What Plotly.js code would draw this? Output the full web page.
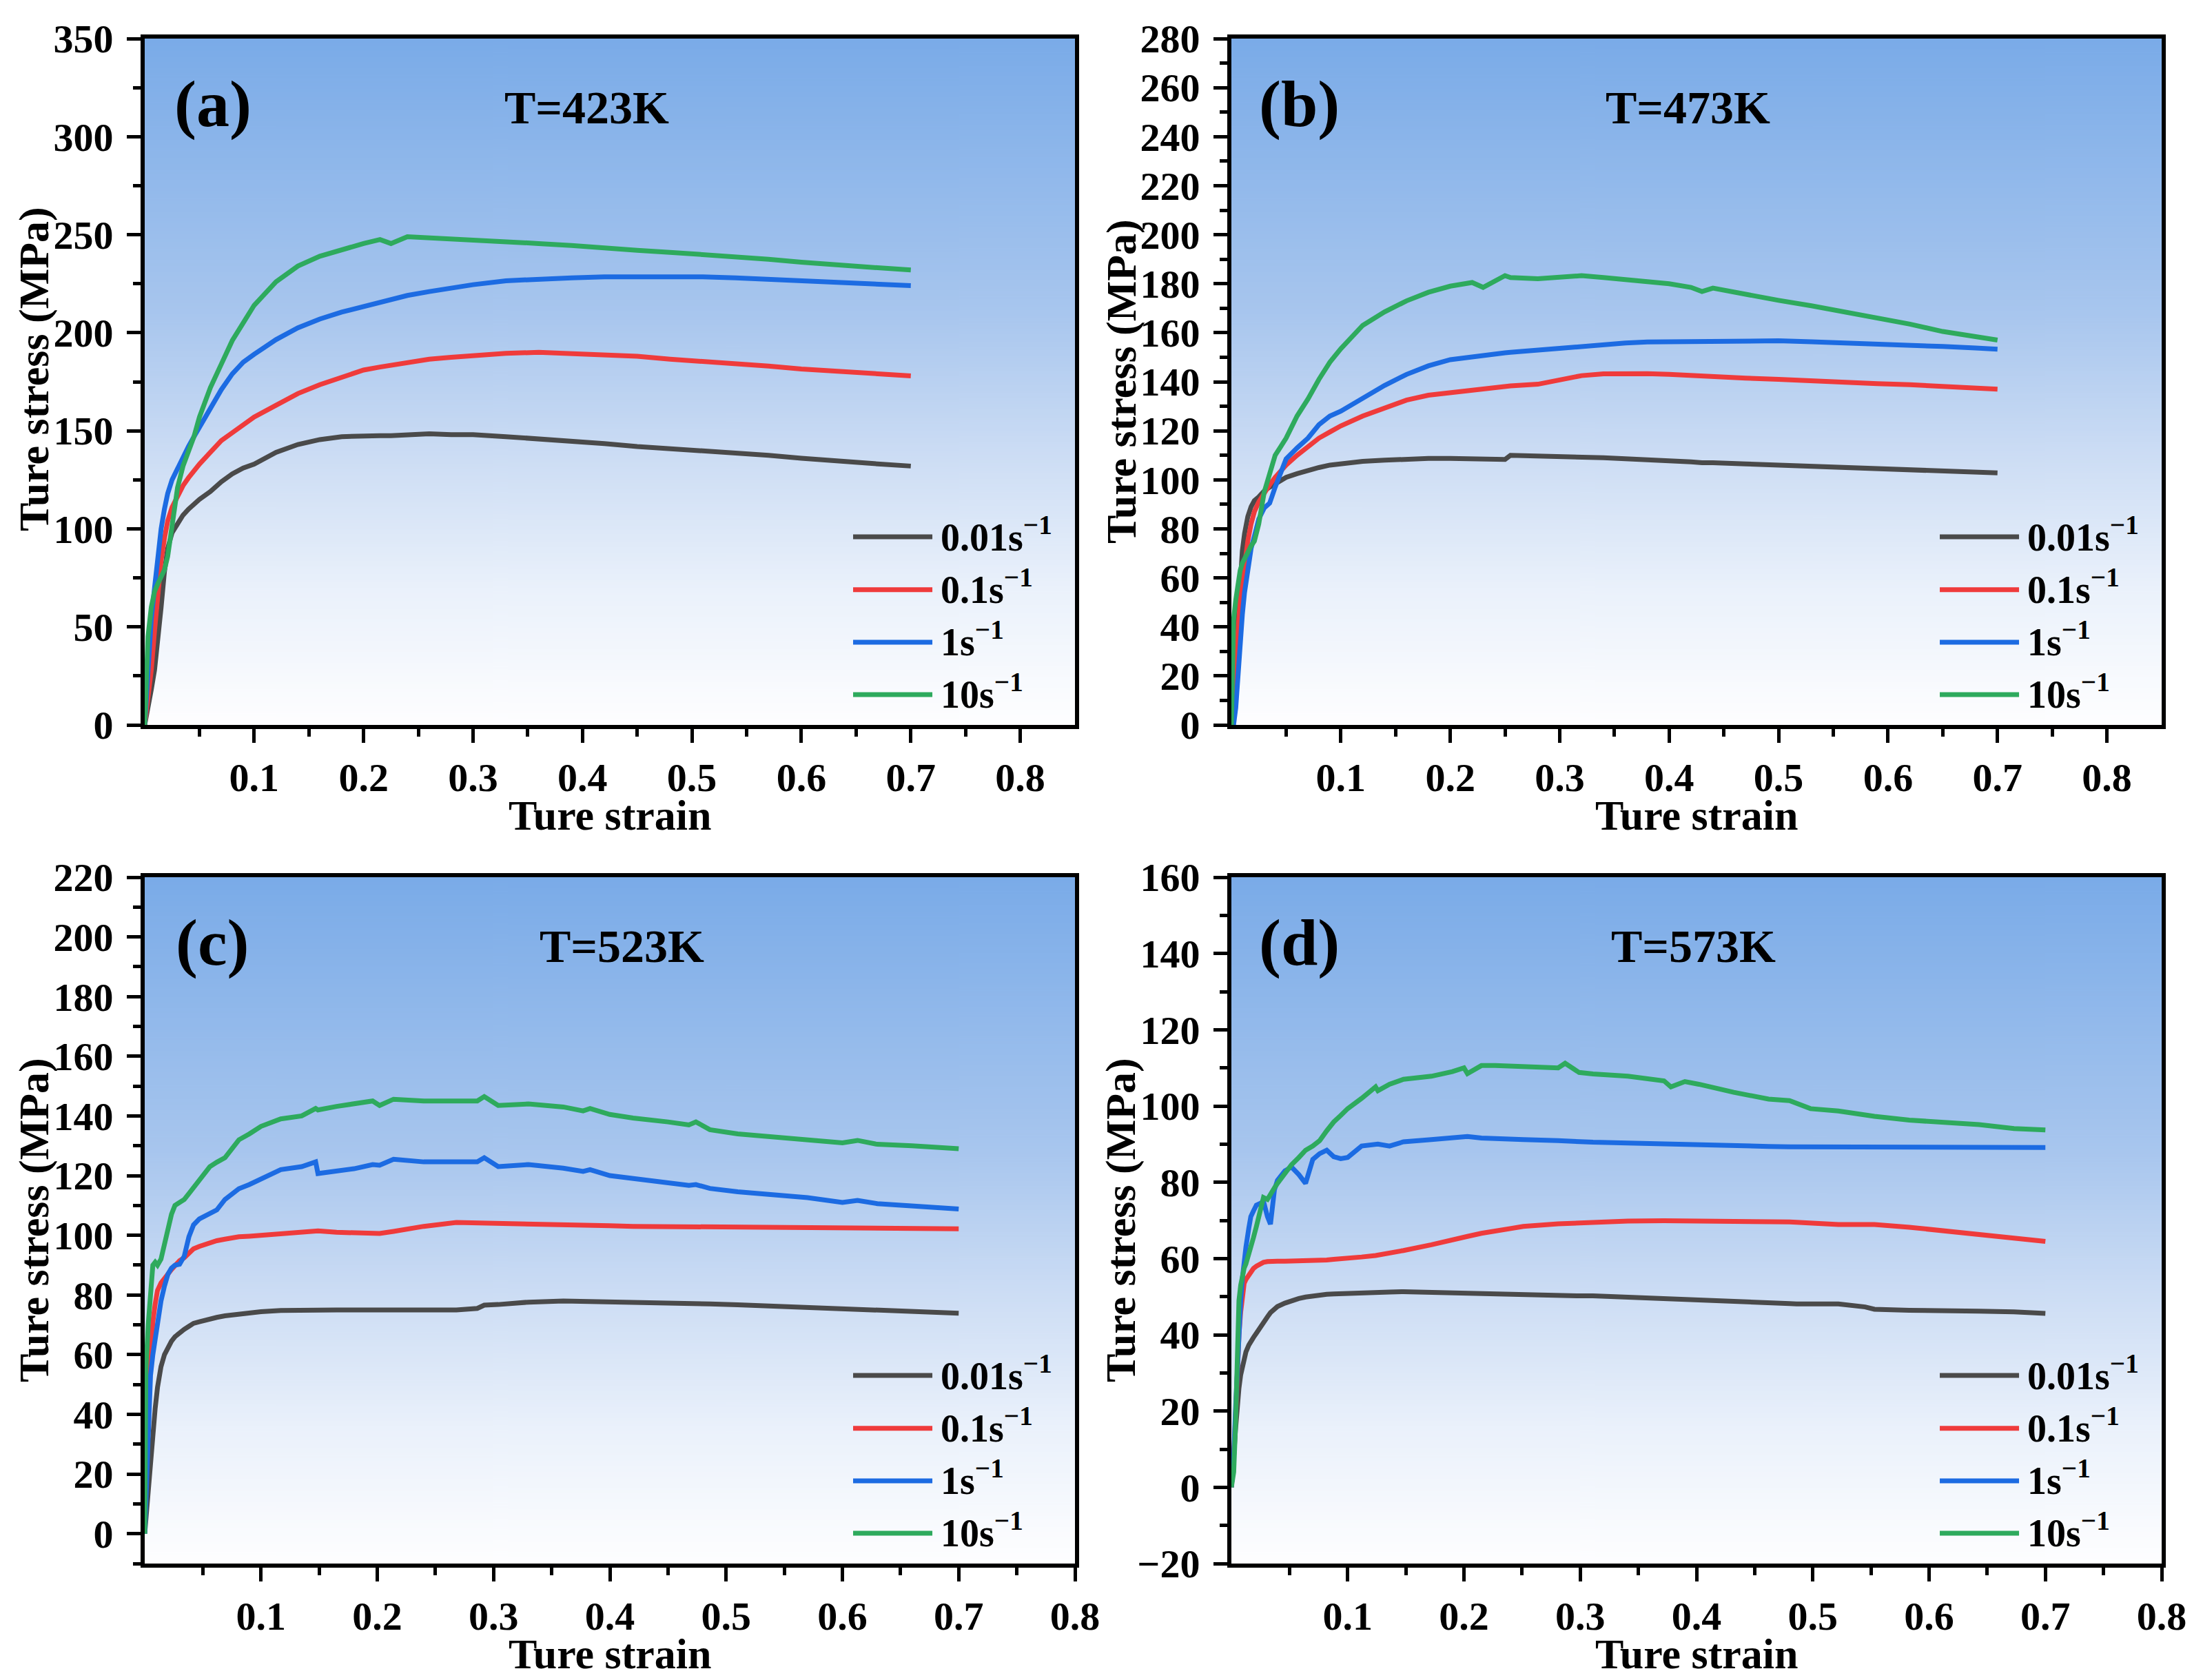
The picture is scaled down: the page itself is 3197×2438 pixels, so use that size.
<!DOCTYPE html>
<html>
<head>
<meta charset="utf-8">
<title>True stress - true strain curves, four temperatures</title>
<script src="https://cdn.plot.ly/plotly-3.0.1.min.js"></script>
<style>
  html, body { margin: 0; padding: 0; background: #fff; }
  #chart { width: 3197px; height: 2438px; }
</style>
</head>
<body>
<div id="chart"></div>
<script>
/* =========================================================
   Hot compression curves, 2x2 panels (a)-(d).
   One strain grid per panel, one stress list per strain
   rate.
   ========================================================= */

/* ---- labels ---- */
var RATE_LABELS = ["0.01s<sup>\u22121</sup>", "0.1s<sup>\u22121</sup>", "1s<sup>\u22121</sup>", "10s<sup>\u22121</sup>"];
var PANEL_TAGS = ["(a)", "(b)", "(c)", "(d)"];
var TEMPS = ["T=423K", "T=473K", "T=523K", "T=573K"];
var X_TICKS = [0.1, 0.2, 0.3, 0.4, 0.5, 0.6, 0.7, 0.8];
var X_MINOR = [0.05, 0.15, 0.25, 0.35, 0.45, 0.55, 0.65, 0.75];

/* ---- (a) T=423K ---- */
var A_STRAIN = [0, 0.003, 0.006, 0.009, 0.012, 0.015, 0.018, 0.021, 0.025, 0.03,
  0.035, 0.04, 0.045, 0.05, 0.06, 0.07, 0.08, 0.09, 0.10, 0.12,
  0.14, 0.16, 0.18, 0.20, 0.215, 0.225, 0.24, 0.26, 0.28, 0.30,
  0.33, 0.36, 0.39, 0.42, 0.45, 0.48, 0.51, 0.54, 0.57, 0.60,
  0.63, 0.66, 0.70];
var A_R001 = [0, 8, 18, 28, 42, 60, 78, 90, 98, 103,
  107, 110, 112.5, 115, 119, 124, 128, 131, 133, 139,
  143, 145.5, 147, 147.5, 147.5, 147.5, 148, 148.5, 148, 148,
  147, 146, 145, 143.5, 142, 141, 140, 138.5, 137.5, 136,
  135, 133.5, 132];
var A_R01 = [0, 12, 28, 48, 68, 84, 95, 104, 111, 117,
  122, 126, 130, 133, 139, 145, 149, 153, 157, 163,
  169, 173.5, 177.5, 181, 182.5, 183.5, 185, 186.5, 187.5, 188.5,
  189.5, 190, 189.5, 189, 188, 186.5, 185.5, 184, 183, 181.5,
  180.5, 179, 178];
var A_R1 = [0, 32, 54, 70, 86, 100, 110, 118, 125, 131,
  136, 142, 147, 152, 161, 171, 179, 185, 189, 196.5,
  202.5, 207, 210.5, 213.5, 215.5, 217, 219, 221, 223, 224.5,
  226.5, 227.5, 228, 228.5, 228.7, 228.7, 228.5, 228, 227.3, 226.5,
  225.5, 224.8, 224];
var A_R10 = [0, 45, 60, 68, 72, 75, 79, 86, 103, 121,
  132, 139, 147, 157, 172, 184, 196, 205, 214, 226,
  234, 239, 242.5, 245.5, 247.5, 245.5, 249, 248.5, 248, 247.5,
  246.5, 245.5, 244.5, 243, 242, 241, 240, 238.5, 237.5, 236,
  235, 233.5, 232];

/* ---- (b) T=473K ---- */
var B_STRAIN = [0, 0.002, 0.004, 0.006, 0.008, 0.01, 0.012, 0.015, 0.018, 0.021,
  0.025, 0.03, 0.035, 0.04, 0.045, 0.05, 0.06, 0.07, 0.08, 0.09,
  0.10, 0.12, 0.14, 0.16, 0.18, 0.20, 0.22, 0.23, 0.25, 0.255,
  0.28, 0.30, 0.32, 0.34, 0.36, 0.38, 0.40, 0.42, 0.43, 0.44,
  0.47, 0.50, 0.53, 0.56, 0.59, 0.62, 0.65, 0.68, 0.70];
var B_R001 = [0, 14, 28, 45, 60, 71, 78, 85, 89, 91.5,
  93, 95.5, 97, 98.5, 99.5, 101, 102.5, 104, 105, 106,
  106.5, 107.5, 108, 108.5, 108.7, 108.7, 108.5, 108.5, 108.3, 110,
  109.8, 109.5, 109.2, 109, 108.6, 108.3, 108, 107.3, 107, 107,
  106.5, 106, 105.6, 105.2, 104.6, 104.3, 103.9, 103.2, 102.8];
var B_R01 = [0, 8, 25, 41, 51, 58, 66, 75, 82, 87,
  91, 95, 98, 101, 103.5, 106, 110, 113.5, 117, 119.5,
  122, 126, 129.5, 132.5, 134.5, 135.5, 136.5, 137, 138, 138.3,
  139, 141, 142.5, 143.2, 143.4, 143.3, 143, 142.5, 142.3, 142,
  141.5, 141, 140.3, 139.7, 139.2, 138.8, 138.3, 137.6, 137];
var B_R1 = [0, 0, 7, 21, 34, 45, 54, 65, 72, 77,
  84, 88.5, 90.5, 97, 103, 108.5, 113, 117, 122.5, 126,
  128, 133.5, 138.5, 143, 146.5, 149, 150.3, 150.8, 151.8, 152,
  153, 153.7, 154.5, 155.2, 155.8, 156.2, 156.3, 156.4, 156.5, 156.5,
  156.6, 156.7, 156.3, 155.9, 155.5, 155, 154.4, 153.8, 153.3];
var B_R10 = [0, 43, 51, 59, 63, 66, 68, 70, 73, 75,
  82, 95, 103, 110, 113.5, 117, 126, 133, 141, 148,
  153.5, 163, 168.5, 173, 176.5, 179, 180.5, 178.5, 183.3, 182.5,
  182, 182.5, 183.3, 182.5, 181.8, 181, 180, 178.5, 176.8, 178.2,
  175.5, 173.2, 171, 168.5, 166, 163.5, 160.5, 158.3, 157];

/* ---- (c) T=523K ---- */
var C_STRAIN = [0, 0.001, 0.003, 0.005, 0.007, 0.009, 0.011, 0.014, 0.017, 0.02,
  0.023, 0.026, 0.03, 0.034, 0.038, 0.042, 0.047, 0.052, 0.056, 0.062,
  0.069, 0.075, 0.081, 0.09, 0.10, 0.117, 0.135, 0.147, 0.149, 0.165,
  0.18, 0.196, 0.202, 0.214, 0.24, 0.268, 0.286, 0.292, 0.304, 0.33,
  0.36, 0.377, 0.383, 0.40, 0.42, 0.45, 0.468, 0.474, 0.486, 0.51,
  0.54, 0.57, 0.60, 0.613, 0.63, 0.66, 0.70];
var C_R001 = [0, 5, 15, 26, 34, 42, 49, 56, 60, 62.5,
  64.5, 66, 67.5, 68.5, 69.5, 70.5, 71, 71.6, 72, 72.5,
  73, 73.3, 73.5, 74, 74.4, 74.8, 75, 75, 75, 75,
  75, 75, 75, 75, 75, 75, 75.5, 76.6, 76.8, 77.6,
  78, 77.9, 77.8, 77.7, 77.6, 77.3, 77.2, 77.1, 77, 76.7,
  76.2, 75.8, 75.3, 75.1, 74.8, 74.4, 73.9];
var C_R01 = [3, 18, 42, 58, 71, 77, 81.5, 84, 85.8, 87,
  88.5, 90, 91.5, 92.5, 94, 95.5, 96.3, 97, 97.7, 98.2,
  98.7, 99.2, 99.5, 99.7, 100, 100.4, 101.2, 101.7, 101.5, 101,
  100.8, 100.4, 100.6, 101.3, 103, 104.3, 104.2, 104.1, 104, 103.8,
  103.5, 103.4, 103.3, 103.2, 103, 102.9, 102.8, 102.8, 102.7, 102.7,
  102.6, 102.5, 102.4, 102.4, 102.3, 102.3, 102.2];
var C_R1 = [0, 12, 38, 53, 60, 66, 71, 78, 83, 87,
  89, 90, 90.3, 93, 99.5, 103.5, 105.5, 106.5, 107, 108.5,
  112, 114, 115.6, 117, 119, 122, 123, 124.6, 120.7, 121.5,
  122.3, 123.7, 123.5, 125.5, 124.6, 124.6, 124.6, 126, 123, 123.7,
  122.5, 121.4, 122, 120, 119, 117.5, 116.7, 117, 115.7, 114.6,
  113.5, 112.6, 111, 111.7, 110.6, 109.7, 108.8];
var C_R10 = [0, 55, 70, 80, 90, 91, 90, 92, 97, 103,
  107, 110, 111, 112, 114, 116, 119, 121, 123, 124.5,
  126, 129, 132, 134, 136.5, 139, 140, 142.5, 142, 143.2,
  144, 145, 143.5, 145.6, 145, 145, 145, 146.5, 143.5, 144,
  143, 141.7, 142.5, 140.5, 139.3, 138, 137, 138, 135.4, 134,
  133, 132, 131, 131.8, 130.5, 130, 129];

/* ---- (d) T=573K ---- */
var D_STRAIN = [0, 0.001, 0.002, 0.0035, 0.005, 0.0065, 0.008, 0.0095, 0.011, 0.0125,
  0.015, 0.0167, 0.019, 0.0215, 0.025, 0.0276, 0.031, 0.0336, 0.037, 0.0396,
  0.046, 0.0517, 0.058, 0.0638, 0.07, 0.0759, 0.082, 0.088, 0.094, 0.10,
  0.112, 0.124, 0.126, 0.136, 0.148, 0.172, 0.19, 0.2, 0.203, 0.215,
  0.227, 0.251, 0.281, 0.287, 0.299, 0.311, 0.341, 0.372, 0.378, 0.39,
  0.402, 0.432, 0.462, 0.48, 0.486, 0.498, 0.522, 0.545, 0.553, 0.583,
  0.613, 0.643, 0.673, 0.70];
var D_R001 = [0, 3, 8, 15, 22, 26, 29.5, 32, 34, 35.5,
  37.3, 38.3, 39.3, 40.4, 41.8, 43.2, 44.7, 45.8, 46.7, 47.4,
  48.3, 49, 49.5, 49.9, 50.2, 50.4, 50.6, 50.7, 50.8, 50.9,
  51, 51.1, 51.1, 51.2, 51.3, 51.1, 50.9, 50.8, 50.8, 50.6,
  50.5, 50.5, 50.3, 50.3, 50.2, 50.2, 49.9, 49.5, 49.4, 49.3,
  49.2, 48.8, 48.5, 48.2, 48.1, 48.1, 48.1, 47.3, 46.7, 46.4,
  46.4, 46.2, 46, 45.6];
var D_R01 = [0, 3, 8, 18, 31, 40, 46, 51.6, 53.5, 54.5,
  55.6, 56.5, 57.4, 58, 58.6, 59, 59.2, 59.3, 59.3, 59.3,
  59.3, 59.3, 59.3, 59.3, 59.4, 59.5, 59.6, 59.8, 59.9, 60,
  60.4, 60.8, 60.9, 61.5, 62.1, 63.6, 65, 65.6, 65.8, 66.6,
  67.2, 68.4, 69.1, 69.2, 69.4, 69.6, 69.8, 69.9, 69.9, 69.9,
  69.9, 69.9, 69.8, 69.6, 69.5, 69.3, 68.9, 68.9, 68.9, 68.2,
  67.3, 66.3, 65.4, 64.5];
var D_R1 = [0, 3, 8, 20, 31, 41, 49, 55, 60, 63,
  68, 71, 72.5, 74, 74.5, 75, 71, 69, 78, 80.5,
  83, 84, 82, 79.7, 86, 87.5, 88.4, 86.7, 86.2, 86.5,
  89.5, 90.2, 90, 89.5, 90.6, 91.2, 91.6, 91.8, 92, 91.6,
  91.4, 91.2, 90.9, 90.8, 90.7, 90.5, 90.3, 90, 90, 89.9,
  89.8, 89.5, 89.4, 89.3, 89.3, 89.2, 89.2, 89.1, 89.1, 89.1,
  89.1, 89.1, 89.1, 89.1];
var D_R10 = [0, 2, 4, 16, 38, 49, 53, 56, 57.5, 58.6,
  61, 62.8, 65.5, 68.4, 73, 76, 75.5, 77, 78.5, 79.7,
  82.5, 84.6, 86.5, 88.4, 89.5, 90.9, 93.5, 95.8, 97.5, 99.3,
  102, 105, 104, 105.7, 107, 107.8, 109, 110, 108.5, 110.6,
  110.6, 110.3, 110, 111.2, 108.8, 108.4, 107.8, 106.6, 105, 106.4,
  105.7, 103.6, 101.8, 101.4, 100.8, 99.3, 98.7, 97.6, 97.3, 96.3,
  95.8, 95.1, 94.1, 93.7];

(function () {
  "use strict";
  var W = 3197, H = 2438;
  var COLORS = ["#4a4a4a", "#ef3b3b", "#1c6be2", "#2eaa5d"];
  var FONT = "'Liberation Serif', 'Times New Roman', serif";
  var LINE_W = 7;

  /* ---- panel boxes in page pixels (left, right, top, bottom) ---- */
  var PANELS = [
    { box: [210, 1560, 56, 1052], strain: A_STRAIN, ys: [A_R001, A_R01, A_R1, A_R10], yr: [0, 350], dy: 50, tx: 0.475, xr: [0, 0.85] },
    { box: [1787, 3137, 56, 1052], strain: B_STRAIN, ys: [B_R001, B_R01, B_R1, B_R10], yr: [0, 280], dy: 20, tx: 0.491, xr: [0, 0.85] },
    { box: [210, 1560, 1273, 2269], strain: C_STRAIN, ys: [C_R001, C_R01, C_R1, C_R10], yr: [-10, 220], dy: 20, tx: 0.513, xr: [0, 0.8] },
    { box: [1787, 3137, 1273, 2269], strain: D_STRAIN, ys: [D_R001, D_R01, D_R1, D_R10], yr: [-20, 160], dy: 20, tx: 0.497, xr: [0, 0.8] }
  ];

  /* blue-to-white backdrop, painted once on a tiny canvas */
  function gradientUrl() {
    var c = document.createElement("canvas");
    c.width = 4; c.height = 512;
    var ctx = c.getContext("2d");
    var g = ctx.createLinearGradient(0, 0, 0, 512);
    g.addColorStop(0, "rgb(122,171,232)");
    g.addColorStop(0.4, "rgb(168,198,238)");
    g.addColorStop(0.6, "rgb(203,220,244)");
    g.addColorStop(0.8, "rgb(234,241,251)");
    g.addColorStop(1, "rgb(254,254,255)");
    ctx.fillStyle = g;
    ctx.fillRect(0, 0, 4, 512);
    return c.toDataURL("image/png");
  }
  var bg = gradientUrl();

  var traces = [], annotations = [], shapes = [], images = [];
  var layout = {
    width: W, height: H,
    margin: { l: 0, r: 0, t: 0, b: 0 },
    paper_bgcolor: "#ffffff",
    plot_bgcolor: "rgba(0,0,0,0)",
    font: { family: FONT, color: "#000", size: 58, weight: "bold" },
    showlegend: false
  };

  var bold = function (s) { return "<b>" + s + "</b>"; };

  PANELS.forEach(function (p, i) {
    var n = i === 0 ? "" : String(i + 1);
    var xid = "x" + n, yid = "y" + n;
    var L = p.box[0], R = p.box[1], T = p.box[2], B = p.box[3];
    var xd = [L / W, R / W], yd = [1 - B / H, 1 - T / H];

    var axisBase = {
      showline: true, linewidth: 6, linecolor: "#000", mirror: true,
      showgrid: false, zeroline: false,
      ticks: "outside", ticklen: 20, tickwidth: 5, tickcolor: "#000",
      tickfont: { family: FONT, size: 58, color: "#000", weight: "bold" },
      fixedrange: true
    };
    layout["xaxis" + n] = Object.assign({}, axisBase, {
      domain: xd, range: p.xr, anchor: yid,
      tickmode: "array", tickvals: X_TICKS, ticktext: X_TICKS.map(String),
      minor: { tickmode: "array", tickvals: X_MINOR, ticks: "outside", ticklen: 11, tickwidth: 5, tickcolor: "#000" }
    });
    layout["yaxis" + n] = Object.assign({}, axisBase, {
      domain: yd, range: p.yr, anchor: xid,
      tick0: 0, dtick: p.dy, ticklabelstandoff: 8,
      minor: { tick0: 0, dtick: p.dy / 2, ticks: "outside", ticklen: 11, tickwidth: 5, tickcolor: "#000" }
    });

    images.push({
      source: bg, xref: "paper", yref: "paper",
      x: xd[0], y: yd[1], sizex: xd[1] - xd[0], sizey: yd[1] - yd[0],
      xanchor: "left", yanchor: "top", sizing: "stretch", layer: "below"
    });

    /* curves */
    p.ys.forEach(function (ys, k) {
      traces.push({
        type: "scatter", mode: "lines", x: p.strain, y: ys,
        xaxis: xid, yaxis: yid, name: RATE_LABELS[k],
        line: { color: COLORS[k], width: LINE_W }, hoverinfo: "skip"
      });
    });

    /* panel tag and temperature */
    annotations.push({
      xref: xid + " domain", yref: yid + " domain", x: 0.073, y: 0.905,
      text: bold(PANEL_TAGS[i]), showarrow: false, xanchor: "center", yanchor: "middle",
      font: { family: FONT, size: 96, color: "#000" }
    });
    annotations.push({
      xref: xid + " domain", yref: yid + " domain", x: p.tx, y: 0.9,
      text: bold(TEMPS[i]), showarrow: false, xanchor: "center", yanchor: "middle",
      font: { family: FONT, size: 68, color: "#000" }
    });

    /* axis titles */
    annotations.push({
      xref: "paper", yref: "paper", x: (L - 160) / W,
      y: 1 - ((T + B) / 2 - (i === 0 ? 18 : 0)) / H,
      text: bold("Ture stress (MPa)"), textangle: -90, showarrow: false,
      xanchor: "center", yanchor: "middle",
      font: { family: FONT, size: 62, color: "#000" }
    });
    annotations.push({
      xref: "paper", yref: "paper", x: (L + R) / 2 / W, y: 1 - (B + 131) / H,
      text: bold("Ture strain"), showarrow: false, borderpad: 0,
      xanchor: "center", yanchor: "middle",
      font: { family: FONT, size: 62, color: "#000" }
    });

    /* legend drawn in the lower right corner */
    var rows = [0.274, 0.197, 0.1205, 0.0442];
    rows.forEach(function (ry, k) {
      shapes.push({
        type: "line", xref: xid + " domain", yref: yid + " domain",
        x0: 0.7615, x1: 0.8467, y0: ry, y1: ry,
        line: { color: COLORS[k], width: LINE_W }
      });
      annotations.push({
        xref: xid + " domain", yref: yid + " domain", x: 0.854, y: ry + 0.004,
        text: bold(RATE_LABELS[k]), showarrow: false, xanchor: "left", yanchor: "middle",
        font: { family: FONT, size: 56, color: "#000" }
      });
    });
  });

  layout.annotations = annotations;
  layout.shapes = shapes;
  layout.images = images;

  Plotly.newPlot("chart", traces, layout, { displayModeBar: false, staticPlot: true });
})();
</script>
</body>
</html>
